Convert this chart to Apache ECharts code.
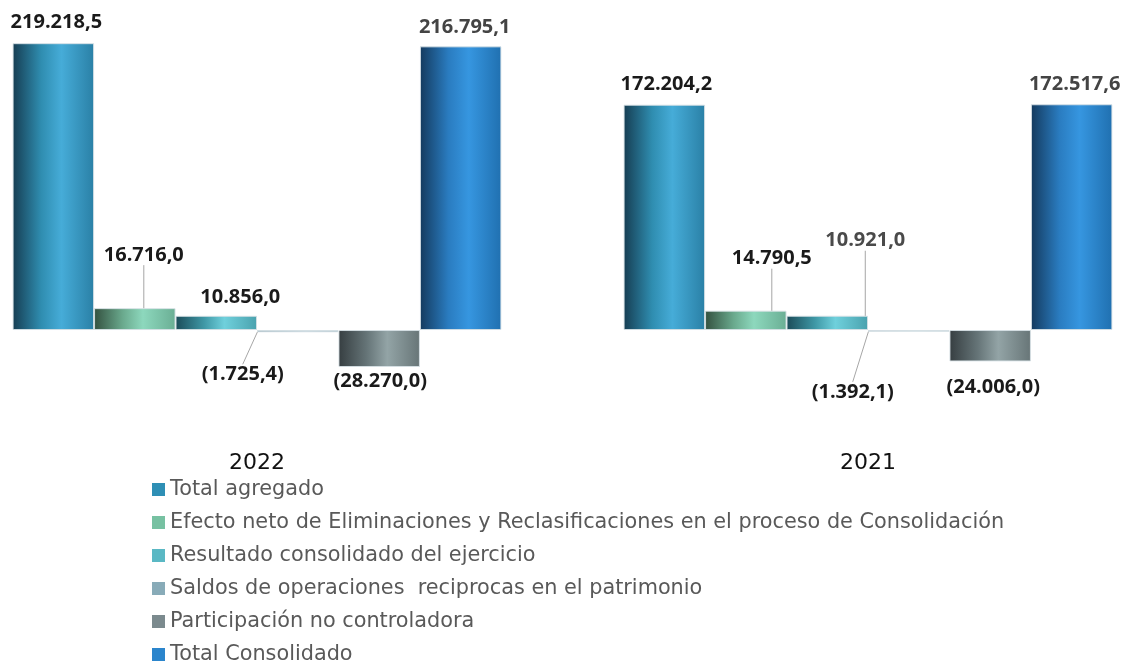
<!DOCTYPE html>
<html>
<head>
<meta charset="utf-8">
<script src="https://cdn.jsdelivr.net/npm/echarts@6/dist/echarts.min.js"></script>
<style>
  html, body { margin: 0; padding: 0; background: #fff; }
  #chart { width: 1124px; height: 662px; }
</style>
</head>
<body>
<div id="chart"></div>
<script>
// categorías (años)
var years = ['2022', '2021'];

// series, valores por año [2022, 2021]
var seriesNames = [
  'Total agregado',
  'Efecto neto de Eliminaciones y Reclasificaciones en el proceso de Consolidación',
  'Resultado consolidado del ejercicio',
  'Saldos de operaciones  reciprocas en el patrimonio',
  'Participación no controladora',
  'Total Consolidado'
];
var totalAgregado = [219218.5, 172204.2];
var efectoNeto = [16716.0, 14790.5];
var resultadoEjercicio = [10856.0, 10921.0];
var saldosReciprocas = [-1725.4, -1392.1];
var participacionNoControladora = [-28270.0, -24006.0];
var totalConsolidado = [216795.1, 172517.6];

var seriesValues = [totalAgregado, efectoNeto, resultadoEjercicio, saldosReciprocas, participacionNoControladora, totalConsolidado];

// colores: leyenda + degradado (izq, medio, claro, der)
var legendColors = ['#2e8fb5', '#77c1a2', '#5ab8c4', '#88abb8', '#7b8a8e', '#2b85cc'];
var gradStops = [
  ['#163d52', '#2f8db0', '#46acd8', '#2a80a6'],
  ['#33503f', '#6aa98d', '#8dd8bd', '#6aae94'],
  ['#1b4b58', '#3f98a6', '#6fd0dc', '#4aa2ae'],
  ['#5f8592', '#88abb8', '#a9c6d0', '#7fa3b0'],
  ['#363e41', '#667578', '#93a4a6', '#677577'],
  ['#143a5e', '#2a7cc0', '#3696e0', '#2070b0']
];

// desplazamiento de etiquetas [serie][año] -> [dx, dy, línea guía]
var labelShift = [
  [[3, -1, false], [2, 0, false]],
  [[9, -33, true], [26, -32, true]],
  [[24, 1, false], [38, -55, true]],
  [[-55, 22, true], [-56, 40, true]],
  [[1, -6, false], [3, 6, false]],
  [[4, 1, false], [3, 0, false]]
];
var labelColor = [
  ['#1a1a1a', '#1a1a1a'],
  ['#1a1a1a', '#1a1a1a'],
  ['#1a1a1a', '#4a4a4a'],
  ['#1a1a1a', '#1a1a1a'],
  ['#1a1a1a', '#1a1a1a'],
  ['#444444', '#444444']
];

function fmt(v) {
  var s = Math.abs(v).toFixed(1).split('.');
  var ent = s[0].replace(/\B(?=(\d{3})+(?!\d))/g, '.');
  var txt = ent + ',' + s[1];
  return v < 0 ? '(' + txt + ')' : txt;
}

var myChart = echarts.init(document.getElementById('chart'));

var series = seriesValues.map(function (vals, si) {
  var g = gradStops[si];
  return {
    name: seriesNames[si],
    type: 'bar',
    barGap: 0,
    barCategoryGap: '20%',
    itemStyle: {
      color: new echarts.graphic.LinearGradient(0, 0, 1, 0, [
        { offset: 0, color: g[0] },
        { offset: 0.35, color: g[1] },
        { offset: 0.6, color: g[2] },
        { offset: 1, color: g[3] }
      ]),
      borderColor: 'rgba(215,225,230,0.9)',
      borderWidth: 1
    },
    data: vals.map(function (v, yi) {
      return {
        value: v,
        label: {
          position: v < 0 ? 'bottom' : 'top',
          color: labelColor[si][yi]
        },
        labelLine: { show: labelShift[si][yi][2] }
      };
    }),
    label: {
      show: true,
      distance: 10,
      fontFamily: 'Open Sans',
      fontWeight: 'bold',
      fontSize: 20,
      formatter: function (p) { return fmt(p.value); }
    },
    labelLine: {
      show: false,
      lineStyle: { color: '#a6a6a6', width: 1 }
    },
    labelLayout: function (p) {
      var s = labelShift[p.seriesIndex][p.dataIndex];
      return { dx: s[0], dy: s[1] };
    }
  };
});

var option = {
  animation: false,
  color: legendColors,
  grid: {
    left: -48.5,
    right: -49.5,
    top: 16,
    bottom: 227.3,
    outerBoundsMode: 'none',
    containLabel: false
  },
  legend: {
    orient: 'vertical',
    left: 152,
    top: 479,
    height: 220,
    padding: 0,
    itemWidth: 13,
    itemHeight: 13,
    itemGap: 12,
    icon: 'rect',
    itemStyle: { borderWidth: 0 },
    textStyle: {
      fontFamily: 'DejaVu Sans',
      fontSize: 20.8,
      color: '#595959'
    },
    data: seriesNames.map(function (n, i) {
      return { name: n, itemStyle: { color: legendColors[i], borderWidth: 0 } };
    })
  },
  xAxis: {
    type: 'category',
    data: years,
    axisLine: { show: false },
    axisTick: { show: false },
    axisLabel: {
      margin: 18,
      fontFamily: 'DejaVu Sans',
      fontSize: 22,
      color: '#111'
    }
  },
  yAxis: {
    type: 'value',
    min: -80000,
    max: 240000,
    show: false,
    splitLine: { show: false }
  },
  series: series
};

myChart.setOption(option);
</script>
</body>
</html>
